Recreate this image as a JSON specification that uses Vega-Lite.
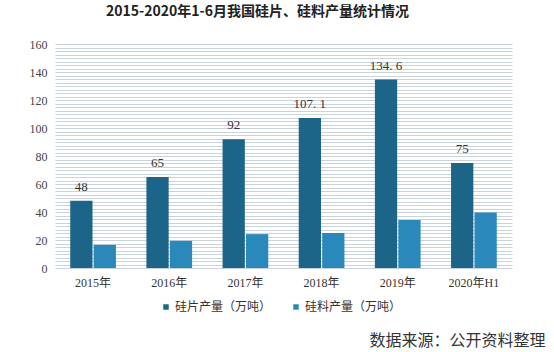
{
  "$schema": "https://vega.github.io/schema/vega-lite/v6.json",
  "width": 457,
  "height": 224,
  "autosize": {"type": "none"},
  "padding": {"left": 55, "top": 44, "right": 42, "bottom": 84},
  "background": "#ffffff",
  "title": {
    "text": "2015-2020年1-6月我国硅片、硅料产量统计情况",
    "font": "Noto Sans CJK SC",
    "fontSize": 14,
    "fontWeight": "bold",
    "color": "#222222",
    "offset": 19,
    "dx": -26
  },
  "config": {"view": {"stroke": null}},
  "data": {
    "values": [
      {"year": "2015年", "series": "硅片产量（万吨）", "value": 48, "label": "48"},
      {"year": "2015年", "series": "硅料产量（万吨）", "value": 16.5, "label": "16.5"},
      {"year": "2016年", "series": "硅片产量（万吨）", "value": 65, "label": "65"},
      {"year": "2016年", "series": "硅料产量（万吨）", "value": 19.4, "label": "19.4"},
      {"year": "2017年", "series": "硅片产量（万吨）", "value": 92, "label": "92"},
      {"year": "2017年", "series": "硅料产量（万吨）", "value": 24.2, "label": "24.2"},
      {"year": "2018年", "series": "硅片产量（万吨）", "value": 107.1, "label": "107. 1"},
      {"year": "2018年", "series": "硅料产量（万吨）", "value": 25, "label": "25"},
      {"year": "2019年", "series": "硅片产量（万吨）", "value": 134.6, "label": "134. 6"},
      {"year": "2019年", "series": "硅料产量（万吨）", "value": 34.2, "label": "34.2"},
      {"year": "2020年H1", "series": "硅片产量（万吨）", "value": 75, "label": "75"},
      {"year": "2020年H1", "series": "硅料产量（万吨）", "value": 39.7, "label": "39.7"}
    ]
  },
  "layer": [
    {
      "mark": {"type": "bar"},
      "encoding": {
        "x": {
          "field": "year",
          "type": "nominal",
          "sort": null,
          "scale": {"paddingInner": 0.4, "paddingOuter": 0.2},
          "axis": {
            "labelAngle": 0,
            "labelFont": "Liberation Serif, Noto Sans CJK SC",
            "labelFontSize": 12,
            "labelColor": "#333333",
            "labelPadding": 9,
            "ticks": false,
            "domain": false,
            "title": "数据来源：公开资料整理",
            "titleFont": "Noto Sans CJK SC",
            "titleFontSize": 16,
            "titleFontWeight": "normal",
            "titleColor": "#333333",
            "titleX": 490,
            "titleY": 72,
            "titleAlign": "right",
            "titleBaseline": "middle"
          }
        },
        "xOffset": {"field": "series", "sort": null, "scale": {"paddingInner": 0.05}},
        "y": {
          "field": "value",
          "type": "quantitative",
          "scale": {"domain": [0, 160], "nice": false},
          "axis": {
            "title": null,
            "tickCount": 200,
            "values": [0,2.5,5,7.5,10,12.5,15,17.5,20,22.5,25,27.5,30,32.5,35,37.5,40,42.5,45,47.5,50,52.5,55,57.5,60,62.5,65,67.5,70,72.5,75,77.5,80,82.5,85,87.5,90,92.5,95,97.5,100,102.5,105,107.5,110,112.5,115,117.5,120,122.5,125,127.5,130,132.5,135,137.5,140,142.5,145,147.5,150,152.5,155,157.5,160],
            "labelExpr": "datum.value % 20 === 0 ? datum.label : ''",
            "labelOverlap": false,
            "labelFont": "Liberation Serif",
            "labelFontSize": 12,
            "labelColor": "#444444",
            "labelPadding": 8,
            "ticks": false,
            "domain": false,
            "gridColor": "#c9d3db",
            "gridWidth": 1
          }
        },
        "color": {
          "field": "series",
          "type": "nominal",
          "sort": null,
          "scale": {"range": ["#1c6588", "#2a88ba"]},
          "legend": {
            "title": null,
            "orient": "none",
            "direction": "horizontal",
            "legendX": 105,
            "legendY": 257,
            "symbolType": "square",
            "symbolSize": 30,
            "labelFont": "Noto Sans CJK SC",
            "labelFontSize": 12,
            "labelColor": "#333333",
            "labelOffset": 3,
            "columnPadding": 18
          }
        }
      }
    },
    {
      "transform": [{"filter": "datum.series === '硅片产量（万吨）'"}],
      "mark": {"type": "text", "baseline": "bottom", "dy": -7, "font": "Liberation Serif", "fontSize": 13, "color": "#333333"},
      "encoding": {
        "x": {"field": "year", "type": "nominal", "sort": null},
        "xOffset": {"field": "series", "sort": null},
        "y": {"field": "value", "type": "quantitative"},
        "text": {"field": "label"}
      }
    }
  ]
}
